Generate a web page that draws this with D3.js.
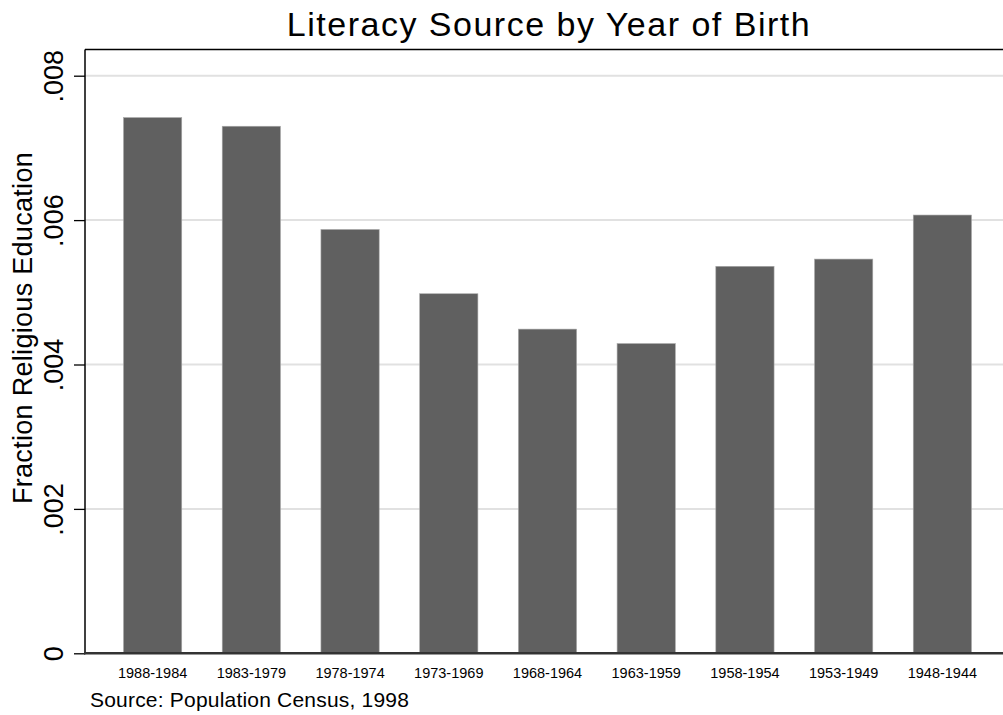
<!DOCTYPE html>
<html lang="en">
<head>
  <meta charset="UTF-8">
  <title>Literacy Source by Year of Birth</title>
  <script src="https://d3js.org/d3.v7.min.js"></script>
  <style>
    body { margin: 0; background: #fff; font-family: Arial, "Liberation Sans", sans-serif; }
    svg { display: block; }
  </style>
</head>
<body>
  <script>
    // Datos del gráfico
    const cohorts = ["1988-1984", "1983-1979", "1978-1974", "1973-1969", "1968-1964",
                     "1963-1959", "1958-1954", "1953-1949", "1948-1944"];
    const fractions = [0.00742, 0.00730, 0.00587, 0.00498, 0.00449, 0.00429, 0.00536, 0.00546, 0.00607];
    const yTicks = [0, 0.002, 0.004, 0.006, 0.008];
    const yTickLabels = ["0", ".002", ".004", ".006", ".008"];

    const width = 1003;
    const height = 715;
    const plotLeft = 85, plotTop = 49.5, plotBottom = 653.3, plotRight = 1010;

    const svg = d3.select("body").append("svg")
      .attr("width", width)
      .attr("height", height);

    const x = d3.scaleBand()
      .domain(cohorts)
      .range([plotLeft, plotRight])
      .paddingInner(0.41)
      .paddingOuter(0.39);

    const y = d3.scaleLinear()
      .domain([0, 0.008])
      .range([plotBottom, plotBottom - 4 * 144.4]);

    // Título
    svg.append("text")
      .attr("x", 549)
      .attr("y", 36)
      .attr("text-anchor", "middle")
      .style("font-size", "34px")
      .style("letter-spacing", "1.5px")
      .text("Literacy Source by Year of Birth");

    // Líneas de la cuadrícula
    svg.append("g")
      .selectAll("line")
      .data(yTicks.slice(1))
      .join("line")
      .attr("x1", plotLeft)
      .attr("x2", width)
      .attr("y1", d => y(d))
      .attr("y2", d => y(d))
      .attr("stroke", "#e1e1e1")
      .attr("stroke-width", 2);

    // Barras
    svg.append("g")
      .selectAll("rect")
      .data(fractions)
      .join("rect")
      .attr("x", (d, i) => x(cohorts[i]))
      .attr("y", d => y(d))
      .attr("width", x.bandwidth())
      .attr("height", d => y(0) - y(d))
      .attr("fill", "#606060")
      .attr("stroke", "#a8a8a8")
      .attr("stroke-width", 0.6);

    // Marco superior
    svg.append("line")
      .attr("x1", plotLeft).attr("x2", width)
      .attr("y1", plotTop).attr("y2", plotTop)
      .attr("stroke", "#000").attr("stroke-width", 1.5);

    // Eje Y
    const yAxis = d3.axisLeft(y)
      .tickValues(yTicks)
      .tickFormat((d, i) => yTickLabels[i])
      .tickSize(11)
      .tickPadding(6);

    const gy = svg.append("g")
      .attr("transform", `translate(${plotLeft},0)`)
      .call(yAxis);
    gy.select(".domain").remove();
    gy.append("line")
      .attr("x1", 0).attr("x2", 0)
      .attr("y1", plotTop).attr("y2", plotBottom + 1)
      .attr("stroke", "#000").attr("stroke-width", 1.5);
    gy.selectAll(".tick line").attr("stroke", "#000").attr("stroke-width", 1.3);
    gy.selectAll(".tick text")
      .attr("fill", "#000")
      .style("font-size", "27px")
      .style("font-family", "Arial, 'Liberation Sans', sans-serif")
      .attr("x", null)
      .attr("dy", null)
      .attr("text-anchor", "middle")
      .attr("transform", "translate(-22,0) rotate(-90)")
      .attr("y", 0);

    // Etiqueta del eje Y
    svg.append("text")
      .attr("transform", "translate(32,328) rotate(-90)")
      .attr("text-anchor", "middle")
      .style("font-size", "27px")
      .style("letter-spacing", "0.3px")
      .text("Fraction Religious Education");

    // Eje X
    const xAxis = d3.axisBottom(x).tickSize(0).tickPadding(14);
    const gx = svg.append("g")
      .attr("transform", `translate(0,${plotBottom})`)
      .call(xAxis);
    gx.select(".domain").remove();
    gx.append("line")
      .attr("x1", plotLeft - 1).attr("x2", width)
      .attr("y1", 0).attr("y2", 0)
      .attr("stroke", "#333").attr("stroke-width", 2.5);
    gx.selectAll(".tick text")
      .attr("fill", "#000")
      .style("font-size", "14.5px")
      .style("font-family", "Arial, 'Liberation Sans', sans-serif");

    // Nota de la fuente
    svg.append("text")
      .attr("x", 90)
      .attr("y", 707)
      .style("font-size", "21px")
      .style("letter-spacing", "0.2px")
      .text("Source: Population Census, 1998");
  </script>
</body>
</html>
